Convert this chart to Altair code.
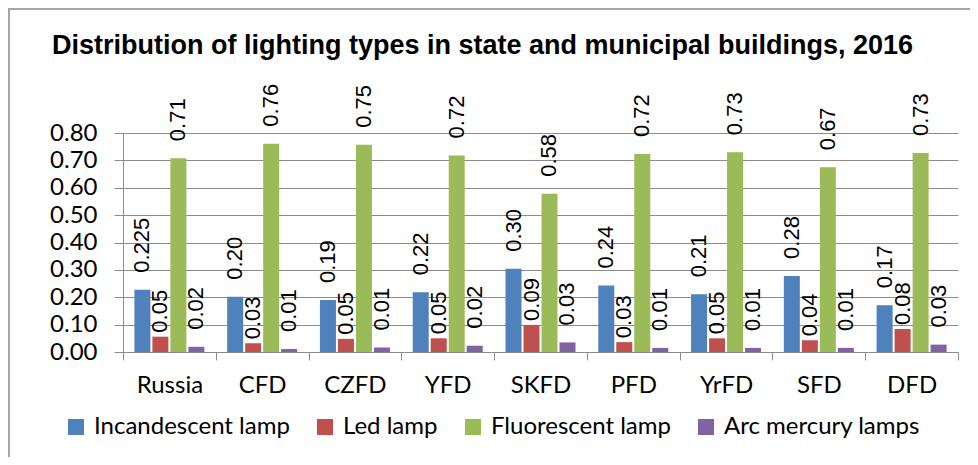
import altair as alt
import pandas as pd

categories = ["Russia", "CFD", "CZFD", "YFD", "SKFD", "PFD", "YrFD", "SFD", "DFD"]
series = ["Incandescent lamp", "Led lamp", "Fluorescent lamp", "Arc mercury lamps"]
colors = ["#4F81BD", "#C0504D", "#9BBB59", "#8064A2"]

incandescent = [0.227, 0.202, 0.190, 0.218, 0.304, 0.243, 0.211, 0.278, 0.171]
led = [0.056, 0.032, 0.048, 0.050, 0.099, 0.036, 0.050, 0.043, 0.084]
fluorescent = [0.708, 0.761, 0.757, 0.718, 0.578, 0.723, 0.730, 0.675, 0.727]
arc_mercury = [0.019, 0.011, 0.016, 0.023, 0.035, 0.015, 0.015, 0.015, 0.027]

incandescent_labels = ["0.225", "0.20", "0.19", "0.22", "0.30", "0.24", "0.21", "0.28", "0.17"]
led_labels = ["0.05", "0.03", "0.05", "0.05", "0.09", "0.03", "0.05", "0.04", "0.08"]
fluorescent_labels = ["0.71", "0.76", "0.75", "0.72", "0.58", "0.72", "0.73", "0.67", "0.73"]
arc_mercury_labels = ["0.02", "0.01", "0.01", "0.02", "0.03", "0.01", "0.01", "0.01", "0.03"]

y_ticks = [0.0, 0.1, 0.2, 0.3, 0.4, 0.5, 0.6, 0.7, 0.8]

title_text = "Distribution of lighting types in state and municipal buildings, 2016"

values_by_series = [incandescent, led, fluorescent, arc_mercury]
labels_by_series = [incandescent_labels, led_labels, fluorescent_labels, arc_mercury_labels]

rows = []
for s, vals, labs in zip(series, values_by_series, labels_by_series):
    for c, v, l in zip(categories, vals, labs):
        rows.append({"region": c, "type": s, "value": v, "label": l})
df = pd.DataFrame(rows)

W, H = 835, 219
GRID = "#8c8c8c"

x_enc = alt.X(
    "region:N",
    sort=categories,
    scale=alt.Scale(paddingInner=0, paddingOuter=0),
    axis=alt.Axis(
        title=None,
        labelAngle=0,
        labelFont="Lato",
        labelFontSize=24,
        labelColor="#000000",
        labelPadding=13,
        tickBand="extent",
        tickSize=8,
        tickColor=GRID,
        domainColor=GRID,
        grid=False,
    ),
)
xoff = alt.XOffset(
    "type:N",
    sort=series,
    scale=alt.Scale(paddingInner=0.111, paddingOuter=0.633),
)
y_enc = alt.Y(
    "value:Q",
    scale=alt.Scale(domain=[0, 0.8], nice=False),
    axis=alt.Axis(
        title=None,
        values=y_ticks,
        format=".2f",
        labelOverlap=False,
        labelFont="Lato",
        labelFontSize=24,
        labelColor="#000000",
        labelPadding=17,
        tickSize=9,
        tickColor=GRID,
        domainColor=GRID,
        gridColor=GRID,
        gridOpacity=1,
    ),
)
color_enc = alt.Color(
    "type:N",
    sort=series,
    scale=alt.Scale(domain=series, range=colors),
    legend=alt.Legend(
        title=None,
        orient="none",
        direction="horizontal",
        legendX=-59,
        legendY=282,
        symbolType="square",
        symbolSize=256,
        symbolStrokeWidth=0,
        symbolOpacity=1,
        labelFont="Lato",
        labelFontSize=24,
        labelColor="#000000",
        labelOffset=6,
        labelLimit=500,
        columnPadding=23,
    ),
)

bars = alt.Chart(df).mark_bar(opacity=1).encode(
    x=x_enc, xOffset=xoff, y=y_enc, color=color_enc
)

def label_layer(gap, keep_led):
    base = alt.Chart(df).mark_text(
        angle=270, align="left", baseline="middle", dx=gap,
        font="Liberation Sans", fontSize=22, color="#000000"
    ).encode(
        x=x_enc,
        xOffset=xoff,
        y=y_enc,
        text="label:N",
    )
    if keep_led:
        return base.transform_filter(alt.datum.type == series[1])
    return base.transform_filter(alt.datum.type != series[1])

texts_main = label_layer(17, False)
texts_led = label_layer(4, True)

title_mark = alt.Chart(pd.DataFrame({"t": [title_text]})).mark_text(
    align="left", baseline="alphabetic",
    font="Liberation Sans", fontSize=27, fontWeight="bold", color="#000000"
).encode(
    x=alt.value(-71), y=alt.value(-79), text="t:N"
)

border_top = alt.Chart(df).mark_rule(color="#a6a6a6", strokeWidth=2).encode(
    x=alt.value(-115), x2=alt.value(850), y=alt.value(-124)
)
border_left = alt.Chart(df).mark_rule(color="#a6a6a6", strokeWidth=2).encode(
    x=alt.value(-114), y=alt.value(-125), y2=alt.value(330)
)

chart = alt.layer(bars, texts_main, texts_led, title_mark, border_top, border_left).properties(
    width=W,
    height=H,
    padding={"left": 115, "top": 125, "right": 12, "bottom": 105},
    autosize=alt.AutoSizeParams(type="none"),
).configure_view(stroke=None).configure_axis(domainWidth=1, tickWidth=1)

chart.save("out.html", embed_options={"renderer": "svg", "actions": False})
